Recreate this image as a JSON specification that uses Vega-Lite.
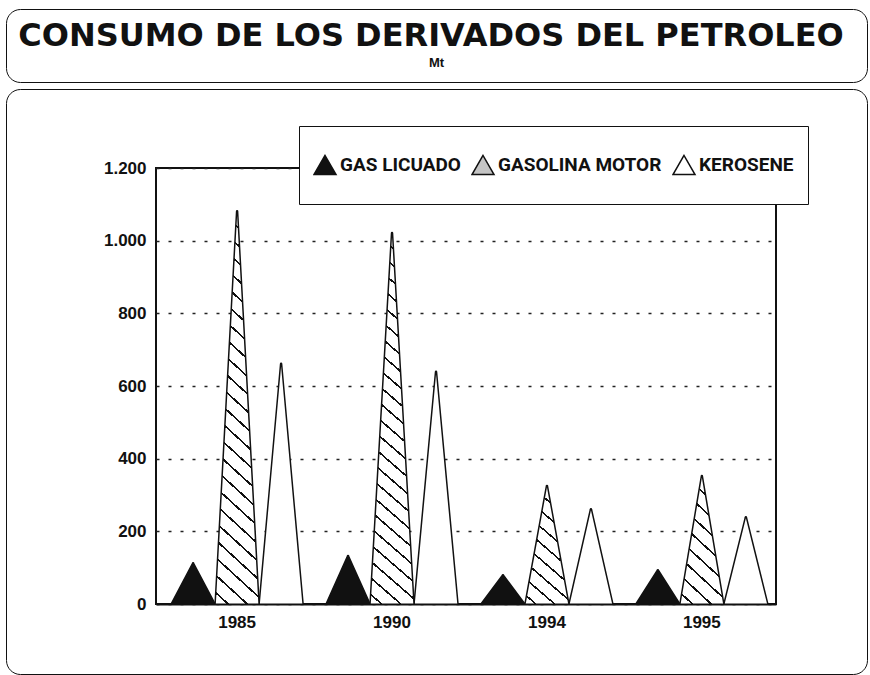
{
  "$schema": "https://vega.github.io/schema/vega-lite/v6.json",
  "background": "white",
  "padding": {"left": 5, "top": 8, "right": 4, "bottom": 0},
  "width": 620,
  "height": 436,
  "view": {"stroke": "#111", "strokeWidth": 2},
  "config": {
    "legend": {"gradientHorizontalMaxLength": 1000, "gradientVerticalMaxLength": 1000},
    "axis": {"labelFont": "Liberation Sans", "labelFontWeight": "bold", "labelFontSize": 17, "labelColor": "#111", "ticks": false, "domain": false, "title": null}
  },
  "data": {"values": [
    {"year": "1985", "series": "GAS LICUADO", "value": 112, "base": 0},
    {"year": "1985", "series": "GASOLINA MOTOR", "value": 1081, "base": 0},
    {"year": "1985", "series": "KEROSENE", "value": 661, "base": 0},
    {"year": "1990", "series": "GAS LICUADO", "value": 132, "base": 0},
    {"year": "1990", "series": "GASOLINA MOTOR", "value": 1021, "base": 0},
    {"year": "1990", "series": "KEROSENE", "value": 639, "base": 0},
    {"year": "1994", "series": "GAS LICUADO", "value": 79, "base": 0},
    {"year": "1994", "series": "GASOLINA MOTOR", "value": 325, "base": 0},
    {"year": "1994", "series": "KEROSENE", "value": 261, "base": 0},
    {"year": "1995", "series": "GAS LICUADO", "value": 93, "base": 0},
    {"year": "1995", "series": "GASOLINA MOTOR", "value": 352, "base": 0},
    {"year": "1995", "series": "KEROSENE", "value": 239, "base": 0}
  ]},
  "transform": [{"fold": ["base", "value"], "as": ["end", "mt"]}],
  "encoding": {
    "y": {"field": "mt", "type": "quantitative",
      "scale": {"domain": [0, 1200], "nice": false},
      "axis": {"values": [0, 200, 400, 600, 800, 1000, 1200], "grid": true, "gridDash": [3, 9], "gridColor": "#222", "gridWidth": 1.3, "labelPadding": 10, "minExtent": 150,
        "labelExpr": "replace(format(datum.value, ','), ',', '.')"}},
    "detail": {"field": "year"},
    "size": {"condition": {"test": "datum.end === 'base'", "value": 44}, "value": 0}
  },
  "resolve": {"scale": {"fill": "independent", "stroke": "independent"}, "legend": {"fill": "independent", "stroke": "independent"}},
  "layer": [
    {
      "transform": [{"filter": "datum.series === 'GASOLINA MOTOR'"}],
      "mark": {"type": "trail", "clip": true, "strokeWidth": 1.5},
      "encoding": {
        "x": {"field": "year", "type": "nominal", "bandPosition": 0.5,
          "scale": {"type": "band", "paddingInner": 0.148, "paddingOuter": 0.075, "align": 0.65},
          "axis": {"labelAngle": 0, "labelPadding": 10, "domain": true, "domainColor": "#111", "domainWidth": 2, "zindex": 1, "grid": false}},
        "fill": {"field": "mt", "type": "quantitative", "scale": {"range": ["white", "white"]},
          "legend": {"orient": "none", "legendX": -150, "legendY": -79, "direction": "horizontal", "gradientLength": 861, "gradientThickness": 584,
            "gradientOpacity": 0, "gradientStrokeWidth": 0, "title": null, "labelOpacity": 0, "labelFontSize": 1, "labelOffset": 0, "tickCount": 2,
            "padding": 0, "strokeColor": "#111", "cornerRadius": 14}},
        "stroke": {"field": "mt", "type": "quantitative", "scale": {"domain": [0, 2], "clamp": true, "range": ["#111", "#111"]},
          "legend": {"orient": "none", "legendX": -150, "legendY": -159, "direction": "horizontal", "gradientLength": 837, "gradientThickness": 1,
            "gradientOpacity": 0, "gradientStrokeWidth": 0,
            "title": "CONSUMO DE LOS DERIVADOS DEL PETROLEO", "titleFont": "DejaVu Sans", "titleFontSize": 32, "titleFontWeight": "bold", "titleColor": "#111",
            "titleAnchor": "middle", "titlePadding": 1, "titleLimit": 1000,
            "values": [1], "labelExpr": "'Mt'", "labelFont": "Liberation Sans", "labelFontSize": 13, "labelFontWeight": "bold", "labelColor": "#111", "labelOffset": 2,
            "padding": 12, "strokeColor": "#111", "cornerRadius": 14}}
      }
    },
    {
      "transform": [{"filter": "datum.series === 'GAS LICUADO'"}],
      "mark": {"type": "trail", "clip": true, "strokeWidth": 1.5},
      "encoding": {
        "x": {"field": "year", "type": "nominal", "bandPosition": 0.16667,
          "scale": {"type": "band", "paddingInner": 0.148, "paddingOuter": 0.075, "align": 0.65},
          "axis": {"labelAngle": 0, "labelPadding": 10, "domain": true, "domainColor": "#111", "domainWidth": 2, "zindex": 1, "grid": false}},
        "fill": {"field": "series", "type": "nominal",
          "scale": {"domain": ["GAS LICUADO", "GASOLINA MOTOR", "KEROSENE"], "range": ["#111", "#c4c4c4", "white"]},
          "legend": {"orient": "none", "legendX": 143, "legendY": -42, "direction": "horizontal", "columns": 3, "title": null,
            "symbolType": "triangle-up", "symbolSize": 484, "symbolStrokeWidth": 1.5,
            "labelFont": "Roboto", "labelFontWeight": "bold", "labelFontSize": 19, "labelColor": "#111", "labelLimit": 300, "labelOffset": 3,
            "columnPadding": 10, "padding": 14, "clipHeight": 50, "fillColor": "white", "strokeColor": "#111"}},
        "stroke": {"field": "series", "type": "nominal",
          "scale": {"domain": ["GAS LICUADO", "GASOLINA MOTOR", "KEROSENE"], "range": ["#111", "#111", "#111"]},
          "legend": {"orient": "none", "legendX": 143, "legendY": -42, "direction": "horizontal", "columns": 3, "title": null,
            "symbolType": "triangle-up", "symbolSize": 484, "symbolStrokeWidth": 1.5,
            "labelFont": "Roboto", "labelFontWeight": "bold", "labelFontSize": 19, "labelColor": "#111", "labelLimit": 300, "labelOffset": 3,
            "columnPadding": 10, "padding": 14, "clipHeight": 50, "fillColor": "white", "strokeColor": "#111"}}
      }
    },
    {
      "transform": [{"filter": "datum.series === 'KEROSENE'"}],
      "mark": {"type": "trail", "clip": true, "stroke": "#111", "strokeWidth": 1.5, "fill": "white"},
      "encoding": {
        "x": {"field": "year", "type": "nominal", "bandPosition": 0.83333,
          "scale": {"type": "band", "paddingInner": 0.148, "paddingOuter": 0.075, "align": 0.65},
          "axis": {"labelAngle": 0, "labelPadding": 10, "domain": true, "domainColor": "#111", "domainWidth": 2, "zindex": 1, "grid": false}}
      }
    },
    {
      "transform": [{"filter": "datum.series === 'GASOLINA MOTOR'"}],
      "mark": {"type": "trail", "clip": true, "stroke": "#111", "strokeWidth": 1.5},
      "encoding": {
        "x": {"field": "year", "type": "nominal", "bandPosition": 0.5,
          "scale": {"type": "band", "paddingInner": 0.148, "paddingOuter": 0.075, "align": 0.65},
          "axis": {"labelAngle": 0, "labelPadding": 10, "domain": true, "domainColor": "#111", "domainWidth": 2, "zindex": 1, "grid": false}},
        "fill": {
          "condition": {"test": "datum.year === '1985' || datum.year === '1990'",
            "value": {"gradient": "linear", "x1": 0, "y1": 1, "x2": 0.1055, "y2": -0.0868, "stops": [
              {"offset": 0, "color": "white"},
              {"offset": 0.03346, "color": "white"}, {"offset": 0.03346, "color": "#111"}, {"offset": 0.03846, "color": "#111"}, {"offset": 0.03846, "color": "white"},
              {"offset": 0.07192, "color": "white"}, {"offset": 0.07192, "color": "#111"}, {"offset": 0.07692, "color": "#111"}, {"offset": 0.07692, "color": "white"},
              {"offset": 0.11038, "color": "white"}, {"offset": 0.11038, "color": "#111"}, {"offset": 0.11538, "color": "#111"}, {"offset": 0.11538, "color": "white"},
              {"offset": 0.14885, "color": "white"}, {"offset": 0.14885, "color": "#111"}, {"offset": 0.15385, "color": "#111"}, {"offset": 0.15385, "color": "white"},
              {"offset": 0.18731, "color": "white"}, {"offset": 0.18731, "color": "#111"}, {"offset": 0.19231, "color": "#111"}, {"offset": 0.19231, "color": "white"},
              {"offset": 0.22577, "color": "white"}, {"offset": 0.22577, "color": "#111"}, {"offset": 0.23077, "color": "#111"}, {"offset": 0.23077, "color": "white"},
              {"offset": 0.26423, "color": "white"}, {"offset": 0.26423, "color": "#111"}, {"offset": 0.26923, "color": "#111"}, {"offset": 0.26923, "color": "white"},
              {"offset": 0.30269, "color": "white"}, {"offset": 0.30269, "color": "#111"}, {"offset": 0.30769, "color": "#111"}, {"offset": 0.30769, "color": "white"},
              {"offset": 0.34115, "color": "white"}, {"offset": 0.34115, "color": "#111"}, {"offset": 0.34615, "color": "#111"}, {"offset": 0.34615, "color": "white"},
              {"offset": 0.37962, "color": "white"}, {"offset": 0.37962, "color": "#111"}, {"offset": 0.38462, "color": "#111"}, {"offset": 0.38462, "color": "white"},
              {"offset": 0.41808, "color": "white"}, {"offset": 0.41808, "color": "#111"}, {"offset": 0.42308, "color": "#111"}, {"offset": 0.42308, "color": "white"},
              {"offset": 0.45654, "color": "white"}, {"offset": 0.45654, "color": "#111"}, {"offset": 0.46154, "color": "#111"}, {"offset": 0.46154, "color": "white"},
              {"offset": 0.495, "color": "white"}, {"offset": 0.495, "color": "#111"}, {"offset": 0.5, "color": "#111"}, {"offset": 0.5, "color": "white"},
              {"offset": 0.53346, "color": "white"}, {"offset": 0.53346, "color": "#111"}, {"offset": 0.53846, "color": "#111"}, {"offset": 0.53846, "color": "white"},
              {"offset": 0.57192, "color": "white"}, {"offset": 0.57192, "color": "#111"}, {"offset": 0.57692, "color": "#111"}, {"offset": 0.57692, "color": "white"},
              {"offset": 0.61038, "color": "white"}, {"offset": 0.61038, "color": "#111"}, {"offset": 0.61538, "color": "#111"}, {"offset": 0.61538, "color": "white"},
              {"offset": 0.64885, "color": "white"}, {"offset": 0.64885, "color": "#111"}, {"offset": 0.65385, "color": "#111"}, {"offset": 0.65385, "color": "white"},
              {"offset": 0.68731, "color": "white"}, {"offset": 0.68731, "color": "#111"}, {"offset": 0.69231, "color": "#111"}, {"offset": 0.69231, "color": "white"},
              {"offset": 0.72577, "color": "white"}, {"offset": 0.72577, "color": "#111"}, {"offset": 0.73077, "color": "#111"}, {"offset": 0.73077, "color": "white"},
              {"offset": 0.76423, "color": "white"}, {"offset": 0.76423, "color": "#111"}, {"offset": 0.76923, "color": "#111"}, {"offset": 0.76923, "color": "white"},
              {"offset": 0.80269, "color": "white"}, {"offset": 0.80269, "color": "#111"}, {"offset": 0.80769, "color": "#111"}, {"offset": 0.80769, "color": "white"},
              {"offset": 0.84115, "color": "white"}, {"offset": 0.84115, "color": "#111"}, {"offset": 0.84615, "color": "#111"}, {"offset": 0.84615, "color": "white"},
              {"offset": 0.87962, "color": "white"}, {"offset": 0.87962, "color": "#111"}, {"offset": 0.88462, "color": "#111"}, {"offset": 0.88462, "color": "white"},
              {"offset": 0.91808, "color": "white"}, {"offset": 0.91808, "color": "#111"}, {"offset": 0.92308, "color": "#111"}, {"offset": 0.92308, "color": "white"},
              {"offset": 0.95654, "color": "white"}, {"offset": 0.95654, "color": "#111"}, {"offset": 0.96154, "color": "#111"}, {"offset": 0.96154, "color": "white"},
              {"offset": 1, "color": "white"}]}},
          "value": {"gradient": "linear", "x1": 0, "y1": 1, "x2": 0.3201, "y2": -0.1839, "stops": [
            {"offset": 0, "color": "white"},
            {"offset": 0.07911, "color": "white"}, {"offset": 0.07911, "color": "#111"}, {"offset": 0.09091, "color": "#111"}, {"offset": 0.09091, "color": "white"},
            {"offset": 0.17002, "color": "white"}, {"offset": 0.17002, "color": "#111"}, {"offset": 0.18182, "color": "#111"}, {"offset": 0.18182, "color": "white"},
            {"offset": 0.26093, "color": "white"}, {"offset": 0.26093, "color": "#111"}, {"offset": 0.27273, "color": "#111"}, {"offset": 0.27273, "color": "white"},
            {"offset": 0.35184, "color": "white"}, {"offset": 0.35184, "color": "#111"}, {"offset": 0.36364, "color": "#111"}, {"offset": 0.36364, "color": "white"},
            {"offset": 0.44275, "color": "white"}, {"offset": 0.44275, "color": "#111"}, {"offset": 0.45455, "color": "#111"}, {"offset": 0.45455, "color": "white"},
            {"offset": 0.53365, "color": "white"}, {"offset": 0.53365, "color": "#111"}, {"offset": 0.54545, "color": "#111"}, {"offset": 0.54545, "color": "white"},
            {"offset": 0.62456, "color": "white"}, {"offset": 0.62456, "color": "#111"}, {"offset": 0.63636, "color": "#111"}, {"offset": 0.63636, "color": "white"},
            {"offset": 0.71547, "color": "white"}, {"offset": 0.71547, "color": "#111"}, {"offset": 0.72727, "color": "#111"}, {"offset": 0.72727, "color": "white"},
            {"offset": 0.80638, "color": "white"}, {"offset": 0.80638, "color": "#111"}, {"offset": 0.81818, "color": "#111"}, {"offset": 0.81818, "color": "white"},
            {"offset": 0.89729, "color": "white"}, {"offset": 0.89729, "color": "#111"}, {"offset": 0.90909, "color": "#111"}, {"offset": 0.90909, "color": "white"},
            {"offset": 1, "color": "white"}]}
        }
      }
    }
  ]
}
